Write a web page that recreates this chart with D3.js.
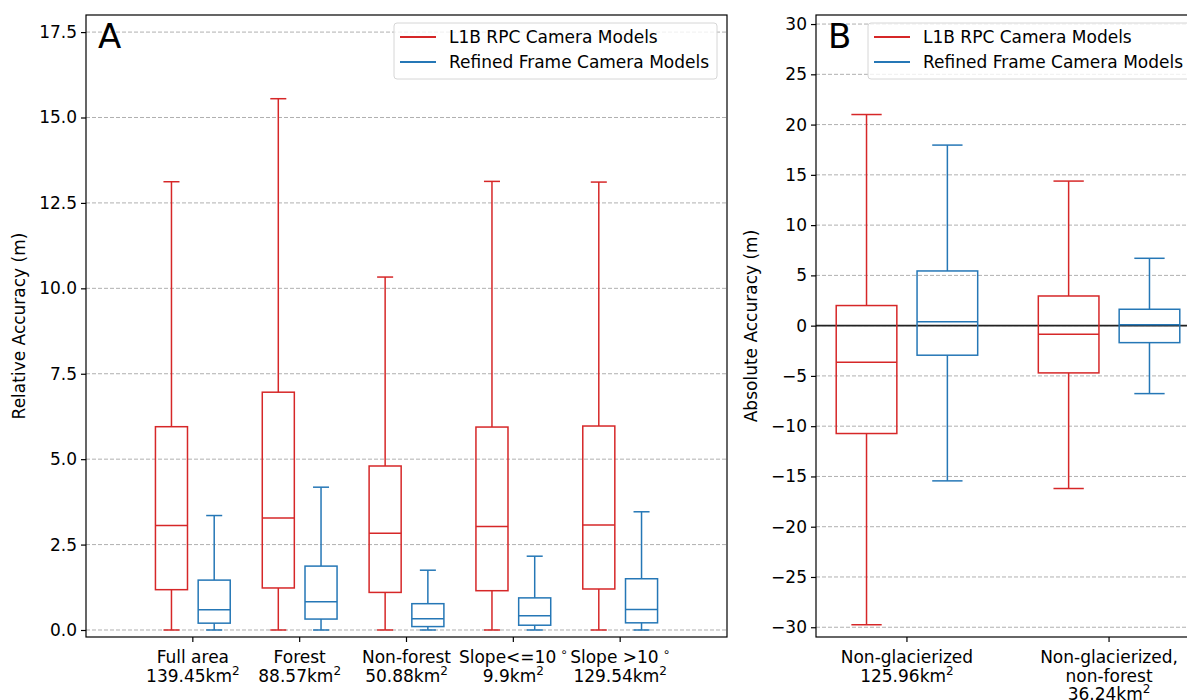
<!DOCTYPE html>
<html>
<head>
<meta charset="utf-8">
<script src="https://cdn.jsdelivr.net/npm/d3@7"></script>
<style>
  body { margin: 0; background: #fff; }
  svg text { font-family: "DejaVu Sans", sans-serif; fill: #000; }
</style>
</head>
<body>
<div class="canvas"></div>
<script>
// data: each box is [low whisker, Q1, median, Q3, high whisker]
const catsA = ['Full area', 'Forest', 'Non-forest', 'Slope<=10', 'Slope >10']
const degreeA = [false, false, false, true, true]
const areasA = ['139.45', '88.57', '50.88', '9.9', '129.54']
const rpcA = [
  [0, 1.18, 3.06, 5.95, 13.12],
  [0, 1.23, 3.28, 6.96, 15.55],
  [0, 1.10, 2.83, 4.80, 10.33],
  [0, 1.15, 3.03, 5.94, 13.13],
  [0, 1.20, 3.07, 5.97, 13.11]
]
const refinedA = [
  [0, 0.20, 0.59, 1.46, 3.35],
  [0, 0.32, 0.83, 1.87, 4.18],
  [0, 0.10, 0.33, 0.77, 1.75],
  [0, 0.14, 0.42, 0.94, 2.16],
  [0, 0.21, 0.60, 1.50, 3.46]
]
const ticksA = [0, 2.5, 5, 7.5, 10, 12.5, 15, 17.5]

const catsB = [['Non-glacierized'], ['Non-glacierized,', 'non-forest']]
const areasB = ['125.96', '36.24']
const rpcB = [
  [-29.75, -10.73, -3.64, 2.0, 21.0],
  [-16.2, -4.7, -0.86, 2.95, 14.38]
]
const refinedB = [
  [-15.44, -2.94, 0.4, 5.44, 17.96],
  [-6.76, -1.69, 0.1, 1.63, 6.7]
]
const ticksB = [-30, -25, -20, -15, -10, -5, 0, 5, 10, 15, 20, 25, 30]

const seriesNames = ['L1B RPC Camera Models', 'Refined Frame Camera Models']
const red = '#d62728'
const blue = '#2577b6'

const svg = d3.select('.canvas').append('svg')
  .attr('width', 1187).attr('height', 700)

// draws one panel
const drawPanel = (opt) => {
  const g = svg.append('g')
  const x = d3.scaleLinear().domain(opt.xDomain).range([opt.left, opt.right])
  const y = d3.scaleLinear().domain(opt.yDomain).range([opt.bottom, opt.top])

  // dashed grid
  g.selectAll('.grid').data(opt.ticks).enter().append('line')
    .attr('x1', opt.left).attr('x2', opt.right)
    .attr('y1', d => y(d)).attr('y2', d => y(d))
    .attr('stroke', '#b0b0b0').attr('stroke-width', 1)
    .attr('stroke-dasharray', '4,2')

  if (opt.zeroLine) {
    g.append('line')
      .attr('x1', opt.left).attr('x2', opt.right)
      .attr('y1', y(0)).attr('y2', y(0))
      .attr('stroke', '#222').attr('stroke-width', 1.6)
  }

  // boxes
  const boxW = x(0.3) - x(0)
  const drawBoxes = (stats, offset, color) => {
    stats.forEach((s, i) => {
      const cx = x(i + 1 + offset)
      const bg = g.append('g').attr('stroke', color).attr('stroke-width', 1.5).attr('fill', 'none')
      bg.append('line').attr('x1', cx).attr('x2', cx).attr('y1', y(s[0])).attr('y2', y(s[1]))
      bg.append('line').attr('x1', cx).attr('x2', cx).attr('y1', y(s[3])).attr('y2', y(s[4]))
      bg.append('line').attr('x1', cx - boxW / 4).attr('x2', cx + boxW / 4).attr('y1', y(s[0])).attr('y2', y(s[0]))
      bg.append('line').attr('x1', cx - boxW / 4).attr('x2', cx + boxW / 4).attr('y1', y(s[4])).attr('y2', y(s[4]))
      bg.append('rect').attr('x', cx - boxW / 2).attr('width', boxW)
        .attr('y', y(s[3])).attr('height', y(s[1]) - y(s[3]))
      bg.append('line').attr('x1', cx - boxW / 2).attr('x2', cx + boxW / 2).attr('y1', y(s[2])).attr('y2', y(s[2]))
    })
  }
  drawBoxes(opt.rpc, -0.2, red)
  drawBoxes(opt.refined, 0.2, blue)

  // frame
  g.append('rect')
    .attr('x', opt.left).attr('y', opt.top)
    .attr('width', opt.right - opt.left).attr('height', opt.bottom - opt.top)
    .attr('fill', 'none').attr('stroke', '#000').attr('stroke-width', 1.2)

  // y axis
  const yAxis = g.append('g').attr('transform', `translate(${opt.left},0)`)
    .call(d3.axisLeft(y).tickValues(opt.ticks).tickSize(5).tickPadding(4)
      .tickFormat(opt.tickFmt))
  yAxis.select('.domain').remove()
  yAxis.selectAll('line').attr('stroke', '#000').attr('stroke-width', 1.2)
  yAxis.selectAll('text').attr('font-size', 17).attr('font-family', 'DejaVu Sans')

  // x ticks and labels
  opt.labels.forEach((lines, i) => {
    const cx = x(i + 1)
    g.append('line').attr('x1', cx).attr('x2', cx)
      .attr('y1', opt.bottom).attr('y2', opt.bottom + 5)
      .attr('stroke', '#000').attr('stroke-width', 1.2)
    const t = g.append('text').attr('text-anchor', 'middle').attr('font-size', 17)
    lines.forEach((ln, j) => {
      t.append('tspan').attr('x', cx).attr('y', opt.bottom + 26 + j * 18.5).text(ln)
      if (opt.degree && opt.degree[i]) {
        t.append('tspan').attr('font-size', 12).attr('dx', 4).attr('dy', -7).text('\u2218')
      }
    })
    t.append('tspan').attr('x', cx).attr('y', opt.bottom + 26 + lines.length * 18.5)
      .text(opt.areas[i] + 'km')
    t.append('tspan').attr('font-size', 12).attr('dy', -7).text('2')
  })

  // y label
  svg.append('text')
    .attr('transform', `translate(${opt.yLabelX},${(opt.top + opt.bottom) / 2}) rotate(-90)`)
    .attr('text-anchor', 'middle').attr('font-size', 17)
    .text(opt.yLabel)

  // panel letter
  svg.append('text').attr('x', opt.left + 12).attr('y', opt.top + 33)
    .attr('font-size', 34).text(opt.letter)

  // legend
  const lg = svg.append('g').attr('transform', `translate(${opt.legendX},${opt.top + 8})`)
  lg.append('rect').attr('width', 323).attr('height', 56).attr('rx', 3)
    .attr('fill', 'rgba(255,255,255,0.8)').attr('stroke', '#d6d6d6').attr('stroke-width', 1)
  seriesNames.forEach((name, i) => {
    const ly = 14 + i * 25
    lg.append('line').attr('x1', 6).attr('x2', 42).attr('y1', ly).attr('y2', ly)
      .attr('stroke', i === 0 ? red : blue).attr('stroke-width', 2)
    lg.append('text').attr('x', 55).attr('y', ly + 6).attr('font-size', 17).text(name)
  })
}

drawPanel({
  left: 86, right: 727, top: 15, bottom: 637,
  xDomain: [0, 6], yDomain: [-0.205, 18.0],
  ticks: ticksA, tickFmt: d3.format('.1f'),
  rpc: rpcA, refined: refinedA,
  labels: catsA.map(c => [c]), degree: degreeA, areas: areasA,
  yLabel: 'Relative Accuracy (m)', yLabelX: 25,
  letter: 'A', legendX: 394, zeroLine: false
})

drawPanel({
  left: 816, right: 1200, top: 15, bottom: 637,
  xDomain: [0.55, 2.45], yDomain: [-30.97, 30.9],
  ticks: ticksB, tickFmt: d => d < 0 ? '\u2212' + Math.abs(d) : d,
  rpc: rpcB, refined: refinedB,
  labels: catsB, degree: null, areas: areasB,
  yLabel: 'Absolute Accuracy (m)', yLabelX: 757,
  letter: 'B', legendX: 868, zeroLine: true
})
</script>
</body>
</html>
